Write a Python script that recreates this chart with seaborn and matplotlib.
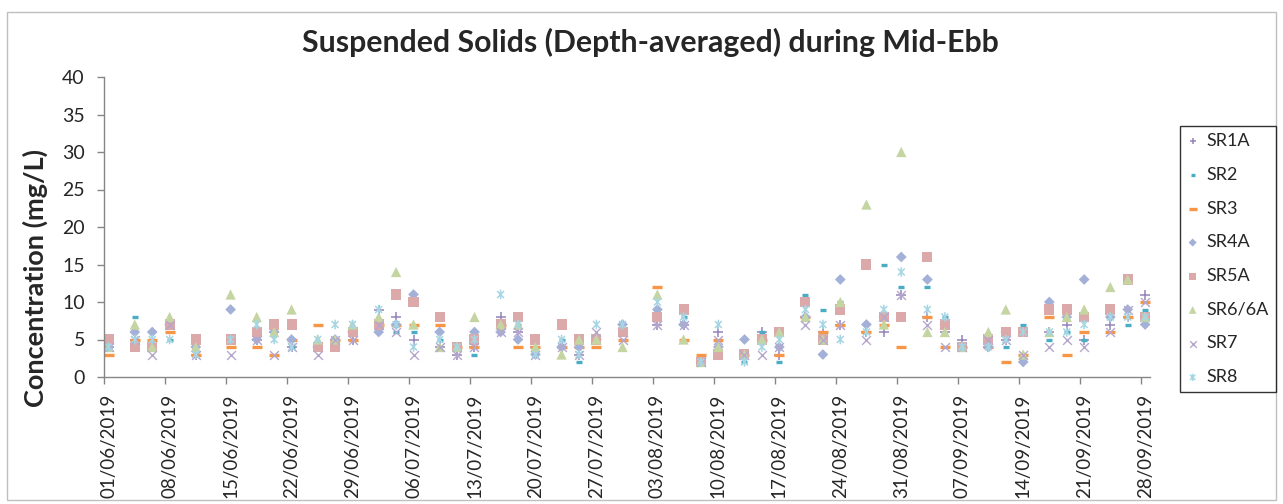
import matplotlib
matplotlib.use('Agg')
import numpy as np
import pandas as pd
import matplotlib.pyplot as plt
from matplotlib.patches import Rectangle
from matplotlib.path import Path
import seaborn as sns

# ---------------------------------------------------------------------------
# Data (mg/L)
# ---------------------------------------------------------------------------
DATES = [
    '01/06/2019', '04/06/2019', '06/06/2019', '08/06/2019', '11/06/2019',
    '15/06/2019', '18/06/2019', '20/06/2019', '22/06/2019', '25/06/2019',
    '27/06/2019', '29/06/2019', '02/07/2019', '04/07/2019', '06/07/2019',
    '09/07/2019', '11/07/2019', '13/07/2019', '16/07/2019', '18/07/2019',
    '20/07/2019', '23/07/2019', '25/07/2019', '27/07/2019', '30/07/2019',
    '03/08/2019', '06/08/2019', '08/08/2019', '10/08/2019', '13/08/2019',
    '15/08/2019', '17/08/2019', '20/08/2019', '22/08/2019', '24/08/2019',
    '27/08/2019', '29/08/2019', '31/08/2019', '03/09/2019', '05/09/2019',
    '07/09/2019', '10/09/2019', '12/09/2019', '14/09/2019', '17/09/2019',
    '19/09/2019', '21/09/2019', '24/09/2019', '26/09/2019', '28/09/2019',
]

SR1A = [4, 5, 4, 7, 3, 5, 5, 6, 4, 4, 5, 5, 9, 8, 5, 4, 3, 4, 8, 6, 4, 4, 3, 5, 6,
        7, 7, 2, 6, 3, 6, 3, 8, 6, 7, 6, 6, 11, 8, 6, 5, 4, 5, 6, 6, 7, 5, 7, 8, 11]
SR2 = [4, 8, 5, 5, 3, 5, 6, 6, 4, 4, 5, 6, 7, 6, 6, 5, 4, 3, 7, 7, 4, 5, 2, 5, 6,
       9, 8, 2, 4, 2, 6, 2, 11, 9, 10, 6, 15, 12, 12, 8, 4, 4, 4, 7, 5, 6, 5, 8, 7, 9]
SR3 = [3, 5, 5, 6, 3, 4, 4, 3, 5, 7, 5, 5, 7, 7, 7, 7, 4, 4, 7, 4, 4, 4, 4, 4, 5,
       12, 5, 3, 5, 3, 5, 3, 8, 6, 7, 6, 7, 4, 8, 4, 4, 4, 2, 3, 8, 3, 6, 6, 8, 10]
SR4A = [4, 6, 6, 7, 4, 9, 5, 6, 5, 4, 5, 6, 6, 7, 11, 6, 4, 6, 6, 5, 3, 4, 4, 5, 7,
        9, 7, 2, 4, 5, 5, 4, 8, 3, 13, 7, 8, 16, 13, 7, 4, 4, 6, 2, 10, 8, 13, 8, 9, 7]
SR5A = [5, 4, 4, 7, 5, 5, 6, 7, 7, 4, 4, 6, 7, 11, 10, 8, 4, 5, 7, 8, 5, 7, 5, 5, 6,
        8, 9, 2, 3, 3, 5, 6, 10, 5, 9, 15, 8, 8, 16, 7, 4, 5, 6, 6, 9, 9, 8, 9, 13, 8]
SR6 = [4, 7, 4, 8, 4, 11, 8, 6, 9, 5, 5, 7, 8, 14, 7, 4, 4, 8, 7, 7, 4, 3, 5, 5, 4,
       11, 5, 2, 4, 3, 5, 6, 8, 5, 10, 23, 7, 30, 6, 6, 4, 6, 9, 3, 6, 8, 9, 12, 13, 8]
SR7 = [4, 5, 3, 7, 3, 3, 5, 3, 4, 3, 5, 5, 7, 6, 3, 4, 3, 4, 6, 6, 3, 4, 3, 6, 5,
       7, 7, 2, 5, 3, 3, 4, 7, 5, 7, 5, 8, 11, 7, 4, 4, 5, 5, 3, 4, 5, 4, 6, 9, 10]
SR8 = [4, 5, 5, 5, 3, 5, 7, 5, 4, 5, 7, 7, 9, 7, 4, 5, 4, 5, 11, 7, 3, 5, 3, 7, 7,
       10, 8, 2, 7, 2, 4, 5, 9, 7, 5, 6, 9, 14, 9, 8, 4, 4, 5, 6, 6, 6, 7, 8, 8, 8]

SERIES = ['SR1A', 'SR2', 'SR3', 'SR4A', 'SR5A', 'SR6/6A', 'SR7', 'SR8']
VALUES = [SR1A, SR2, SR3, SR4A, SR5A, SR6, SR7, SR8]

# Excel-like "star" marker: an x with a vertical stroke
STAR = Path([(0, -1), (0, 1), (-0.72, -0.72), (0.72, 0.72), (-0.72, 0.72), (0.72, -0.72)],
            [Path.MOVETO, Path.LINETO, Path.MOVETO, Path.LINETO, Path.MOVETO, Path.LINETO])

STYLE = {
    'SR1A':   dict(marker='+', color='#9484bb', s=42, linewidth=1.1),
    'SR2':    dict(marker='_', color='#4bacc6', s=14, linewidth=2.4),
    'SR3':    dict(marker='_', color='#f79646', s=52, linewidth=2.4),
    'SR4A':   dict(marker='D', color='#a3b1d9', s=30, linewidth=0, edgecolor='none'),
    'SR5A':   dict(marker='s', color='#dba9aa', s=52, linewidth=0, edgecolor='none'),
    'SR6/6A': dict(marker='^', color='#c4d5a2', s=55, linewidth=0, edgecolor='none'),
    'SR7':    dict(marker='x', color='#b5a6cc', s=40, linewidth=1.0),
    'SR8':    dict(marker=STAR, color='#a6d6e3', s=48, linewidth=1.1,
                   facecolor='none', edgecolor='#a6d6e3'),
}

# ---------------------------------------------------------------------------
# Build table
# ---------------------------------------------------------------------------
dates = pd.to_datetime(DATES, format='%d/%m/%Y')
start = pd.Timestamp('2019-06-01')
day = (dates - start).days
rows = []
for name, vals in zip(SERIES, VALUES):
    for d, v in zip(day, vals):
        rows.append({'day': d, 'value': v, 'series': name})
df = pd.DataFrame(rows)

sns.set_style('white')
plt.rcParams['font.family'] = ['Lato', 'DejaVu Sans']

fig = plt.figure(figsize=(12.83, 5.04), dpi=100)
ax = fig.add_axes([104.3 / 1283, 1 - 377 / 504, (1149.5 - 104.3) / 1283, 300 / 504])

for name in SERIES:
    sub = df[df['series'] == name]
    sns.scatterplot(data=sub, x='day', y='value', ax=ax, label=name, **STYLE[name])

# Axes styling
ax.set_xlim(-0.5, 119.5)
ax.set_ylim(0, 40)
ax.set_yticks(np.arange(0, 41, 5))
ax.tick_params(axis='y', labelsize=14, length=5, width=1, color='#868686',
               pad=9, left=True)

week_days = np.arange(0, 120, 7)
ax.set_xticks(week_days)
ax.set_xticklabels([(start + pd.Timedelta(days=int(d))).strftime('%d/%m/%Y')
                    for d in week_days], rotation=90, ha='center', va='top')
ax.tick_params(axis='x', which='major', length=0, labelsize=13.5, pad=12)
ax.set_xticks(week_days - 0.5, minor=True)
ax.tick_params(axis='x', which='minor', length=5, width=1, color='#868686',
               bottom=True)

for side in ['top', 'right']:
    ax.spines[side].set_visible(False)
for side in ['left', 'bottom']:
    ax.spines[side].set_color('#868686')
    ax.spines[side].set_linewidth(1)
ax.set_xlabel('')
ax.set_ylabel('')

fig.text(35 / 1283, 1 - 278 / 504, 'Concentration (mg/L)', rotation=90,
         ha='center', va='center', fontsize=19.5, fontweight='bold')
fig.text(650 / 1283, 1 - 42 / 504, 'Suspended Solids (Depth-averaged) during Mid-Ebb',
         ha='center', va='center', fontsize=21.8, fontweight='bold')

handles, labels = ax.get_legend_handles_labels()
ax.get_legend().remove()
leg = fig.legend(handles, labels, loc='upper left',
                 bbox_to_anchor=(1180 / 1283, 1 - 126 / 504),
                 frameon=True, fancybox=False,
                 edgecolor='black', fontsize=13, labelspacing=0.98,
                 handlelength=0.6, handletextpad=0.45, borderpad=0.4,
                 markerscale=0.75, borderaxespad=0)
leg.get_frame().set_linewidth(1)

# Outer chart border
fig.patches.append(Rectangle((7 / 1283, 1 - 500 / 504), 1269 / 1283, 488 / 504,
                             transform=fig.transFigure, fill=False,
                             edgecolor='#bfbfbf', linewidth=1))

fig.savefig('out.png', dpi=100)
